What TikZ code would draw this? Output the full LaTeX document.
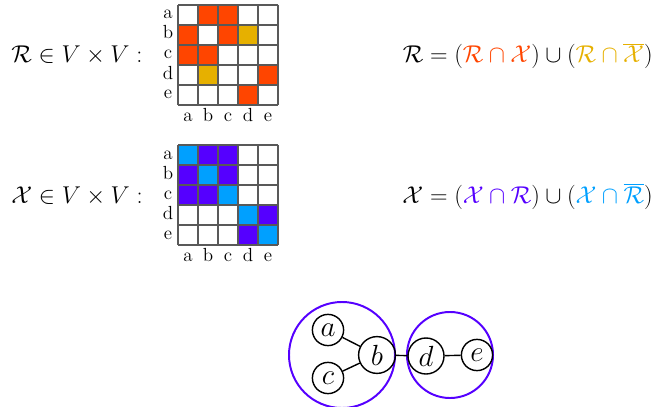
\documentclass[tikz,border=0pt]{standalone}
\usepackage{tikz}

\definecolor{rorange}{RGB}{255,69,0}
\definecolor{rgold}{RGB}{230,176,0}
\definecolor{xpurple}{RGB}{85,0,255}
\definecolor{xblue}{RGB}{0,160,255}

\begin{document}
\begin{tikzpicture}[
    x=0.025cm, y=-0.025cm,
    eq/.style={font=\LARGE, inner sep=0pt},
    lbl/.style={font=\fontsize{13.5}{16}\selectfont, inner sep=0pt, anchor=base},
    gridln/.style={draw=black!65, line width=0.8pt},
    vtx/.style={draw, circle, line width=1pt, inner sep=0pt, font=\huge},
    grp/.style={draw=xpurple, circle, line width=1.4pt, inner sep=0pt},
    edge/.style={line width=1pt}
]
\useasboundingbox (0,0) rectangle (657,407);

% Relation R
\node[eq, anchor=base west] (rdef) at (11,63) {$\mathcal{R}\in V\times V:$};
\node[eq, anchor=base east] (rsplit) at (653,63)
    {$\mathcal{R}=(\textcolor{rorange}{\mathcal{R}\cap\mathcal{X}})\cup(\textcolor{rgold}{\mathcal{R}\cap\overline{\mathcal{X}}})$};

% Matrix of R
\begin{scope}[shift={(178,5)}]
  \foreach \r/\c in {1/2,1/3,2/1,2/3,3/1,3/2,4/5,5/4}
    \fill[rorange] (20*\c-19,20*\r-19) rectangle ++(18,18);
  \foreach \r/\c in {2/4,4/2}
    \fill[rgold] (20*\c-19,20*\r-19) rectangle ++(18,18);
  \foreach \i in {0,...,5} {
    \draw[gridln] (20*\i,0) -- (20*\i,100);
    \draw[gridln] (0,20*\i) -- (100,20*\i);
  }
  \foreach \l [count=\i] in {a,b,c,d,e} {
    \node[lbl] (rrow\l) at (-10,20*\i-6) {\l};
    \node[lbl] (rcol\l) at (20*\i-10,116) {\l};
  }
\end{scope}

% Relation X
\node[eq, anchor=base west] (xdef) at (11,203) {$\mathcal{X}\in V\times V:$};
\node[eq, anchor=base east] (xsplit) at (653,203)
    {$\mathcal{X}=(\textcolor{xpurple}{\mathcal{X}\cap\mathcal{R}})\cup(\textcolor{xblue}{\mathcal{X}\cap\overline{\mathcal{R}}})$};

% Matrix of X
\begin{scope}[shift={(178,145)}]
  \foreach \r/\c in {1/2,1/3,2/1,2/3,3/1,3/2,4/5,5/4}
    \fill[xpurple] (20*\c-19,20*\r-19) rectangle ++(18,18);
  \foreach \r/\c in {1/1,2/2,3/3,4/4,5/5}
    \fill[xblue] (20*\c-19,20*\r-19) rectangle ++(18,18);
  \foreach \i in {0,...,5} {
    \draw[gridln] (20*\i,0) -- (20*\i,100);
    \draw[gridln] (0,20*\i) -- (100,20*\i);
  }
  \foreach \l [count=\i] in {a,b,c,d,e} {
    \node[lbl] (xrow\l) at (-10,20*\i-6) {\l};
    \node[lbl] (xcol\l) at (20*\i-10,116) {\l};
  }
\end{scope}

% Graph with its two groups
\node[grp, minimum size=2.65cm] (grpL) at (342,355) {};
\node[grp, minimum size=2.15cm] (grpR) at (450,355) {};

\node[vtx, minimum size=0.78cm] (a) at (328,330) {$a$};
\node[vtx, minimum size=0.92cm] (b) at (377,355) {$b$};
\node[vtx, minimum size=0.78cm] (c) at (328,378) {$c$};
\node[vtx, minimum size=0.9cm] (d) at (426,356) {$d$};
\node[vtx, minimum size=0.78cm] (e) at (477,355) {$e$};

\draw[edge] (a) -- (b);
\draw[edge] (c) -- (b);
\draw[edge] (b) -- (d);
\draw[edge] (d) -- (e);
\end{tikzpicture}
\end{document}
